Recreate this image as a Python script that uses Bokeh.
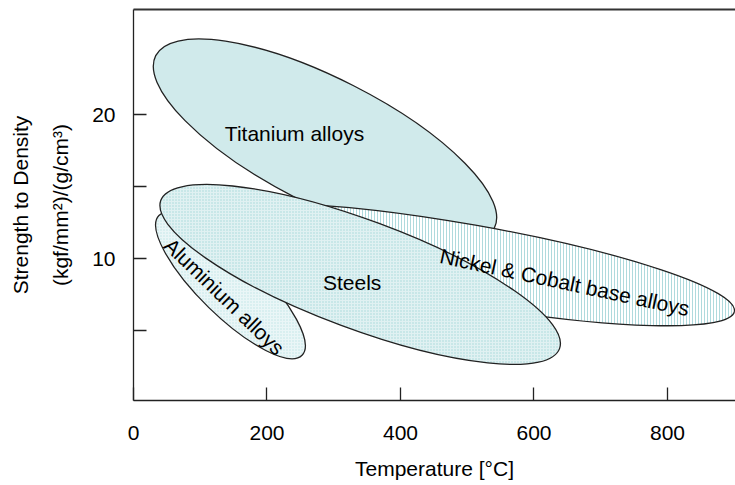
import math
from bokeh.plotting import figure
from bokeh.models import Range1d, FixedTicker, LinearAxis, Label
from bokeh.embed import file_html
from bokeh.resources import INLINE

# ---- data ----
alloys = ["Titanium alloys", "Nickel & Cobalt base alloys", "Aluminium alloys", "Steels"]
temp_center = [286.9, 501.9, 145.3, 339.6]          # deg C
strength_center = [18.12, 9.60, 8.15, 8.91]         # (kgf/mm2)/(g/cm3)
temp_span = [569.3, 809.0, 299.6, 637.3]            # ellipse width, deg C
strength_span = [8.76, 5.56, 4.31, 7.56]            # ellipse height
tilt_deg = [-27.0, -10.0, -44.3, -20.4]

x_ticks = [0, 200, 400, 600, 800]
y_ticks = [5, 10, 15, 20]
y_tick_labels = {5: "", 10: "10", 15: "", 20: "20"}

FONT = "Liberation Sans"
FS = "21px"

styles = {
    "Titanium alloys": dict(fill_color="#d0eaeb", hatch_pattern=None),
    "Nickel & Cobalt base alloys": dict(fill_color="#ffffff", hatch_pattern="vertical_line",
                                        hatch_color="#afdadd", hatch_scale=3, hatch_weight=1),
    "Aluminium alloys": dict(fill_color="#eaf6f7", hatch_pattern="dot",
                             hatch_color="#bfe3e5", hatch_scale=3, hatch_weight=1),
    "Steels": dict(fill_color="#e0f1f2", hatch_pattern="dot",
                   hatch_color="#a5d6d9", hatch_scale=3, hatch_weight=1),
}

p = figure(width=735, height=485, output_backend="svg", toolbar_location=None,
           x_range=Range1d(0, 901.9), y_range=Range1d(0.153, 27.32),
           min_border_left=133, min_border_right=0, min_border_top=9, min_border_bottom=85)
p.background_fill_color = "white"
p.border_fill_color = "white"
p.outline_line_color = None
p.grid.visible = False

for i, name in enumerate(alloys):
    st = dict(styles[name])
    hp = st.pop("hatch_pattern")
    kw = dict(x=[temp_center[i]], y=[strength_center[i]], width=[temp_span[i]],
              height=[strength_span[i]], angle=[math.radians(tilt_deg[i])],
              line_color="#222222", line_width=1.3, fill_alpha=1.0)
    kw.update(st)
    if hp:
        kw["hatch_pattern"] = hp
        kw["hatch_alpha"] = 1.0
    p.ellipse(**kw)

# labels inside the ellipses
ann = [
    ("Titanium alloys", 241.2, 18.73, 0.0, "alphabetic"),
    ("Steels", 327.6, 8.374, 0.0, "alphabetic"),
    ("Nickel & Cobalt base alloys", 646.0, 8.374, -12.1, "alphabetic"),
    ("Aluminium alloys", 136.3, 7.38, -44.0, "middle"),
]
for txt, lx, ly, ang, bl in ann:
    p.add_layout(Label(x=lx, y=ly, text=txt, angle=math.radians(ang), text_align="center",
                       text_baseline=bl, text_font=FONT, text_font_size=FS, text_color="black"))

# axes
xa = p.xaxis[0]
xa.ticker = FixedTicker(ticks=x_ticks)
xa.major_tick_in = 13
xa.major_tick_out = 0
xa.minor_tick_line_color = None
xa.axis_line_color = "#222222"
xa.axis_line_width = 1.3
xa.major_tick_line_color = "#222222"
xa.major_tick_line_width = 1.3
xa.major_label_standoff = 25
xa.major_label_text_font = FONT
xa.major_label_text_font_size = FS
xa.major_label_text_color = "black"
xa.axis_label = "Temperature [°C]"
xa.axis_label_text_font = FONT
xa.axis_label_text_font_size = FS
xa.axis_label_text_font_style = "normal"
xa.axis_label_text_color = "black"
xa.axis_label_standoff = 14

ya = p.yaxis[0]
ya.ticker = FixedTicker(ticks=y_ticks)
ya.major_label_overrides = y_tick_labels
ya.major_tick_in = 13
ya.major_tick_out = 0
ya.minor_tick_line_color = None
ya.axis_line_color = "#222222"
ya.axis_line_width = 1.3
ya.major_tick_line_color = "#222222"
ya.major_tick_line_width = 1.3
ya.major_label_standoff = 18
ya.major_label_text_font = FONT
ya.major_label_text_font_size = FS
ya.major_label_text_color = "black"
ya.axis_label = "(kgf/mm²)/(g/cm³)"
ya.axis_label_text_font = FONT
ya.axis_label_text_font_size = FS
ya.axis_label_text_font_style = "normal"
ya.axis_label_text_color = "black"
ya.axis_label_standoff = 17

# outer left axis carrying only the first title line
ya2 = LinearAxis(ticker=FixedTicker(ticks=[]), major_tick_in=0, major_tick_out=0,
                 minor_tick_in=0, minor_tick_out=0, major_label_standoff=0,
                 axis_line_color=None, axis_label="Strength to Density",
                 axis_label_text_font=FONT, axis_label_text_font_size=FS,
                 axis_label_text_font_style="normal", axis_label_text_color="black",
                 axis_label_standoff=15)
p.add_layout(ya2, "left")

top = LinearAxis(ticker=FixedTicker(ticks=[]), major_tick_in=0, major_tick_out=0,
                 minor_tick_in=0, minor_tick_out=0, major_label_standoff=0,
                 axis_line_color="#333333", axis_line_width=2)
p.add_layout(top, "above")

open("out.html", "w").write(file_html(p, INLINE))
